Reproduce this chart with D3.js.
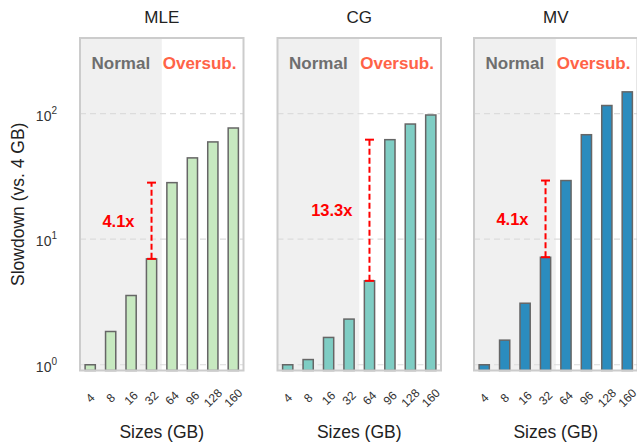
<!DOCTYPE html>
<html>
<head>
<meta charset="utf-8">
<script src="https://cdn.jsdelivr.net/npm/d3@7"></script>
<style>
  body { margin: 0; background: #fff; }
  text { font-family: "Liberation Sans", Arial, sans-serif; }
</style>
</head>
<body>
<div id="chart"></div>
<script>
// sizes on the x axis
const sizes = ["4", "8", "16", "32", "64", "96", "128", "160"];

// slowdown relative to 4 GB
const mle = [1.0, 1.84, 3.56, 6.97, 28.2, 44.4, 59.5, 76.8];
const cg  = [1.0, 1.1, 1.65, 2.31, 4.66, 62.0, 82.6, 97.5];
const mv  = [1.0, 1.57, 3.09, 7.18, 29.3, 67.9, 116, 149];

const panelNames = ["MLE", "CG", "MV"];
const panelColors = ["#c7e9c0", "#7fcdc4", "#2b8cbe"];
const gapLabels = ["4.1x", "13.3x", "4.1x"];
const gapFrom = [3, 4, 3]; // index of the last "normal" bar used for the gap

const yTicks = [1, 10, 100];

const series = [mle, cg, mv];

const width = 637, height = 447;
const panelLeft = [80, 277.5, 474];
const panelW = 163.5;
const plotTop = 38, plotBottom = 370.5;

const svg = d3.select("#chart")
    .append("svg")
    .attr("width", width)
    .attr("height", height);

const y = d3.scaleLog()
    .domain([0.9, 400])
    .range([plotBottom, plotTop]);

series.forEach((vals, p) => {
    const x = d3.scaleLinear()
        .domain([-0.5, 7.5])
        .range([panelLeft[p], panelLeft[p] + panelW]);

    const g = svg.append("g");

    // grey "normal" region
    g.append("rect")
        .attr("x", x(-0.5))
        .attr("y", plotTop)
        .attr("width", x(3.5) - x(-0.5))
        .attr("height", plotBottom - plotTop)
        .attr("fill", "#f0f0f0");

    // grid lines
    g.selectAll(".grid")
        .data(yTicks)
        .enter()
        .append("line")
        .attr("x1", x(-0.5))
        .attr("x2", x(7.5))
        .attr("y1", d => y(d))
        .attr("y2", d => y(d))
        .attr("stroke", "#dcdcdc")
        .attr("stroke-width", 1.2)
        .attr("stroke-dasharray", "6,4");

    // bars
    g.selectAll(".bar")
        .data(vals)
        .enter()
        .append("rect")
        .attr("x", (d, i) => x(i - 0.25))
        .attr("width", x(0.25) - x(-0.25))
        .attr("y", d => y(d))
        .attr("height", d => plotBottom - y(d))
        .attr("fill", panelColors[p])
        .attr("stroke", "#666")
        .attr("stroke-width", 1.5);

    // frame
    g.append("rect")
        .attr("x", x(-0.5))
        .attr("y", plotTop)
        .attr("width", panelW)
        .attr("height", plotBottom - plotTop)
        .attr("fill", "none")
        .attr("stroke", "#cccccc")
        .attr("stroke-width", 2);

    // title
    g.append("text")
        .attr("x", x(3.5))
        .attr("y", 23)
        .attr("text-anchor", "middle")
        .attr("font-size", 17)
        .attr("fill", "#222")
        .text(panelNames[p]);

    // region labels
    g.append("text")
        .attr("x", x(1.5))
        .attr("y", 69)
        .attr("text-anchor", "middle")
        .attr("font-size", 17)
        .attr("font-weight", "bold")
        .attr("fill", "#6e6e6e")
        .text("Normal");

    g.append("text")
        .attr("x", x(5.35))
        .attr("y", 69)
        .attr("text-anchor", "middle")
        .attr("font-size", 17)
        .attr("font-weight", "bold")
        .attr("fill", "#ff6347")
        .text("Oversub.");

    // gap annotation
    const i0 = gapFrom[p];
    const lo = vals[i0], hi = vals[i0 + 1];
    const ax = x(i0);
    g.append("line")
        .attr("x1", ax).attr("x2", ax)
        .attr("y1", y(lo)).attr("y2", y(hi))
        .attr("stroke", "red")
        .attr("stroke-width", 2)
        .attr("stroke-dasharray", "6,3");
    [lo, hi].forEach(v => {
        g.append("line")
            .attr("x1", ax - 4.5).attr("x2", ax + 4.5)
            .attr("y1", y(v)).attr("y2", y(v))
            .attr("stroke", "red")
            .attr("stroke-width", 2);
    });
    g.append("text")
        .attr("x", ax - 17)
        .attr("y", (y(lo) + y(hi)) / 2)
        .attr("dy", "0.36em")
        .attr("text-anchor", "end")
        .attr("font-size", 16.5)
        .attr("font-weight", "bold")
        .attr("fill", "red")
        .text(gapLabels[p]);

    // x tick labels
    g.selectAll(".xt")
        .data(sizes)
        .enter()
        .append("text")
        .attr("transform", (d, i) => `translate(${x(i)}, 398) rotate(-45)`)
        .attr("text-anchor", "middle")
        .attr("dy", "0.35em")
        .attr("font-size", 12)
        .attr("fill", "#333")
        .text(d => d);

    g.append("text")
        .attr("x", x(3.5))
        .attr("y", 438)
        .attr("text-anchor", "middle")
        .attr("font-size", 17.5)
        .attr("fill", "#222")
        .text("Sizes (GB)");

    // y tick labels on first panel only
    if (p === 0) {
        const yt = g.selectAll(".yt")
            .data(yTicks)
            .enter()
            .append("text")
            .attr("x", 57)
            .attr("y", d => y(d) + 7)
            .attr("text-anchor", "end")
            .attr("font-size", 14)
            .attr("fill", "#333");
        yt.append("tspan").text("10");
        yt.append("tspan")
            .attr("dy", -7)
            .attr("font-size", 10)
            .text(d => Math.round(Math.log10(d)));
    }
});

svg.append("text")
    .attr("transform", `translate(24, ${(plotTop + plotBottom) / 2}) rotate(-90)`)
    .attr("text-anchor", "middle")
    .attr("font-size", 17.5)
    .attr("fill", "#222")
    .text("Slowdown (vs. 4 GB)");
</script>
</body>
</html>
